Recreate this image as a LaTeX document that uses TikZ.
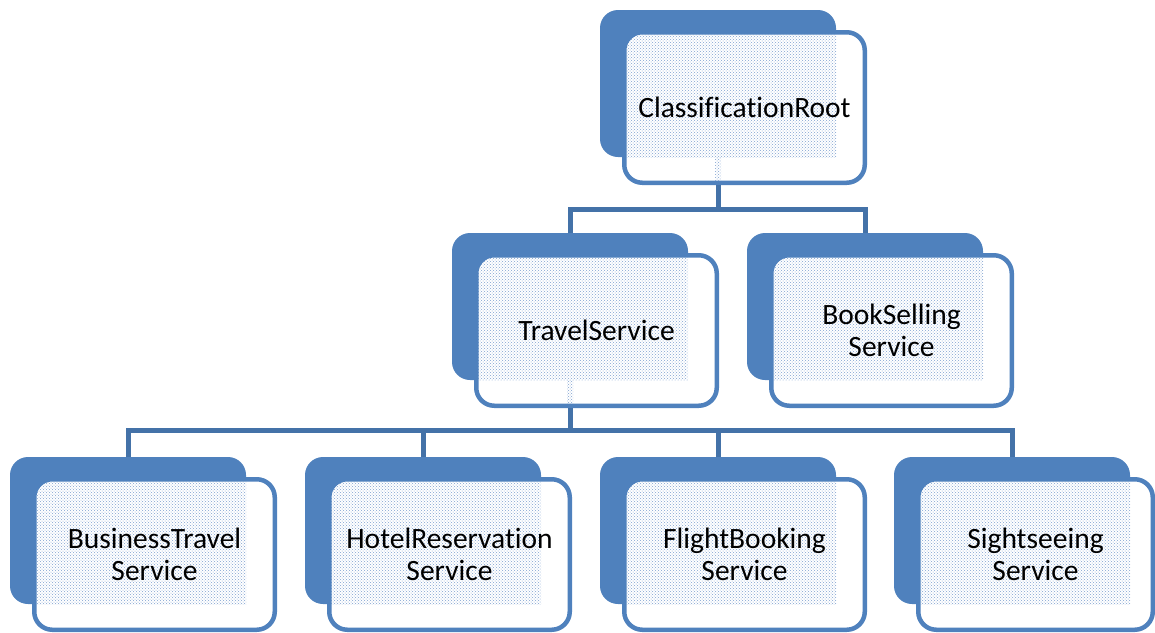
\documentclass[tikz,border=0pt]{standalone}
\usepackage{fontspec}
\setmainfont[Ligatures=NoCommon]{Carlito}
\usetikzlibrary{patterns,calc}

\definecolor{svcblue}{RGB}{79,129,189}
\definecolor{linkblue}{RGB}{68,114,168}
\definecolor{dotblue}{RGB}{128,162,208}

\tikzset{
  backbox/.style={fill=svcblue, rounded corners=18pt},
  frontfill/.style={fill=white, rounded corners=18pt},
  frontedge/.style={draw=svcblue, line width=4.5pt, rounded corners=18pt},
  dotfill/.style={pattern=crosshatch dots, pattern color=dotblue},
  svclabel/.style={inner sep=0pt, align=center, text=black,
                   font=\fontsize{29.5}{32}\selectfont},
  link/.style={draw=linkblue, line width=5pt}
}

% #1 name, #2 left of the back card, #3 top of the back card,
% #4 right edge of the front card (relative), #5 label
\newcommand\svcbox[5]{%
  \begin{scope}[shift={(#2,#3)}]
    \fill[backbox] (0,0) rectangle (236,147);
    \fill[frontfill] (24.25,22.25) rectangle (#4-2.25,172.75);
    \begin{scope}
      \clip[rounded corners=18pt] (24.25,22.25) rectangle (#4-2.25,172.75);
      \fill[dotfill] (0,0) rectangle (236,147);
    \end{scope}
    \draw[frontedge] (24.25,22.25) rectangle (#4-2.25,172.75);
    \node[svclabel] (#1) at ({(22+#4)/2},97.5) {#5};
    \coordinate (#1-in)  at (118,0);
    \coordinate (#1-mid) at (118,147);
    \coordinate (#1-out) at (118,175);
  \end{scope}}

% faint trace of the outgoing connector inside the front card
\newcommand\throughtrace[1]{%
  \fill[dotfill] ($(#1-mid)+(-3,0)$) rectangle ($(#1-out)+(3,-5)$);}

\begin{document}
\begin{tikzpicture}[x=1pt,y=-1pt]
  \useasboundingbox (0,0) rectangle (1155,632);

  % cards
  \svcbox{root}{600}{10}{267}{ClassificationRoot}
  \svcbox{travel}{452}{233}{267}{TravelService}
  \svcbox{book}{747}{233}{267}{BookSelling\\Service}
  \svcbox{business}{10}{457}{267}{BusinessTravel\\Service}
  \svcbox{hotel}{305}{457}{267}{HotelReservation\\Service}
  \svcbox{flight}{600}{457}{267}{FlightBooking\\Service}
  \svcbox{sight}{894}{457}{261}{Sightseeing\\Service}

  \throughtrace{root}
  \throughtrace{travel}

  % connector bus heights
  \coordinate (busA) at (0,209.5);
  \coordinate (busB) at (0,430.5);

  % root to second level
  \draw[link] (root-out) -- (root-out |- busA);
  \draw[link] (travel-in) |- (book-in |- busA) -- (book-in);

  % TravelService to third level
  \draw[link] (travel-out) -- (travel-out |- busB);
  \draw[link] (business-in) |- (sight-in |- busB) -- (sight-in);
  \draw[link] (hotel-in) -- (hotel-in |- busB);
  \draw[link] (flight-in) -- (flight-in |- busB);
\end{tikzpicture}
\end{document}
